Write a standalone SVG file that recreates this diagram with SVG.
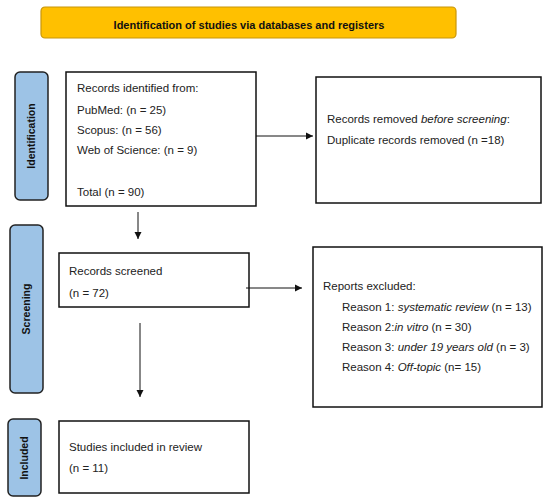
<svg xmlns="http://www.w3.org/2000/svg" width="550" height="502" viewBox="0 0 550 502">
<style>
text{font-family:"Liberation Sans",Arial,sans-serif;font-size:11.5px;fill:#222}
.box{fill:#fff;stroke:#111;stroke-width:1.5}
.side{fill:#9dc3e6;stroke:#222;stroke-width:1.5}
.lab{font-weight:bold;font-size:10.5px;fill:#111}
.ln{stroke:#111;stroke-width:1;fill:none}
</style>
<defs>
<marker id="ah" markerWidth="8" markerHeight="8" refX="7" refY="4" orient="auto" markerUnits="userSpaceOnUse">
<path d="M0,0.5 L7,4 L0,7.5 Z" fill="#111"/>
</marker>
</defs>
<rect width="550" height="502" fill="#fff"/>
<g id="title">
<rect x="41" y="7" width="415" height="31" rx="4" fill="#ffc000" stroke="#c8960a" stroke-width="1.2"/>
<text x="249" y="29" text-anchor="middle" class="lab" style="font-size:11px">Identification of studies via databases and registers</text>
</g>
<g id="side-identification">
<rect class="side" x="15" y="72" width="33" height="128" rx="5"/>
<text class="lab" transform="translate(35,136) rotate(-90)" text-anchor="middle">Identification</text>
</g>
<g id="side-screening">
<rect class="side" x="10" y="225" width="33" height="168" rx="5"/>
<text class="lab" transform="translate(30,309) rotate(-90)" text-anchor="middle">Screening</text>
</g>
<g id="side-included">
<rect class="side" x="8" y="419" width="33" height="77" rx="5"/>
<text class="lab" transform="translate(28,458) rotate(-90)" text-anchor="middle">Included</text>
</g>
<g id="identified">
<rect class="box" x="66" y="72" width="190" height="134"/>
<text x="77" y="92">Records identified from:</text>
<text x="77" y="114">PubMed: (n = 25)</text>
<text x="77" y="134">Scopus: (n = 56)</text>
<text x="77" y="154">Web of Science: (n = 9)</text>
<text x="77" y="196">Total (n = 90)</text>
</g>
<g id="removed">
<rect class="box" x="316" y="77" width="225" height="126"/>
<text x="327" y="123">Records removed <tspan font-style="italic">before screening</tspan>:</text>
<text x="327" y="144">Duplicate records removed (n =18)</text>
</g>
<g id="screened">
<rect class="box" x="59" y="253" width="190" height="54"/>
<text x="69" y="275">Records screened</text>
<text x="69" y="297">(n = 72)</text>
</g>
<g id="excluded">
<rect class="box" x="313" y="247" width="229" height="160"/>
<text x="323" y="290">Reports excluded:</text>
<text x="342" y="311">Reason 1: <tspan font-style="italic">systematic review</tspan> (n = 13)</text>
<text x="342" y="331">Reason 2:<tspan font-style="italic">in vitro</tspan> (n = 30)</text>
<text x="342" y="351">Reason 3: <tspan font-style="italic">under 19 years old</tspan> (n = 3)</text>
<text x="342" y="371">Reason 4: <tspan font-style="italic">Off-topic</tspan> (n= 15)</text>
</g>
<g id="included">
<rect class="box" x="59" y="421" width="190" height="72"/>
<text x="69" y="451">Studies included in review</text>
<text x="69" y="472">(n = 11)</text>
</g>
<g id="connectors">
<line class="ln" x1="256" y1="136" x2="313" y2="136" marker-end="url(#ah)"/>
<line class="ln" x1="138" y1="212" x2="138" y2="239" marker-end="url(#ah)"/>
<line class="ln" x1="246" y1="288" x2="302" y2="288" marker-end="url(#ah)"/>
<line class="ln" x1="140" y1="323" x2="140" y2="397" marker-end="url(#ah)"/>
</g>
</svg>
